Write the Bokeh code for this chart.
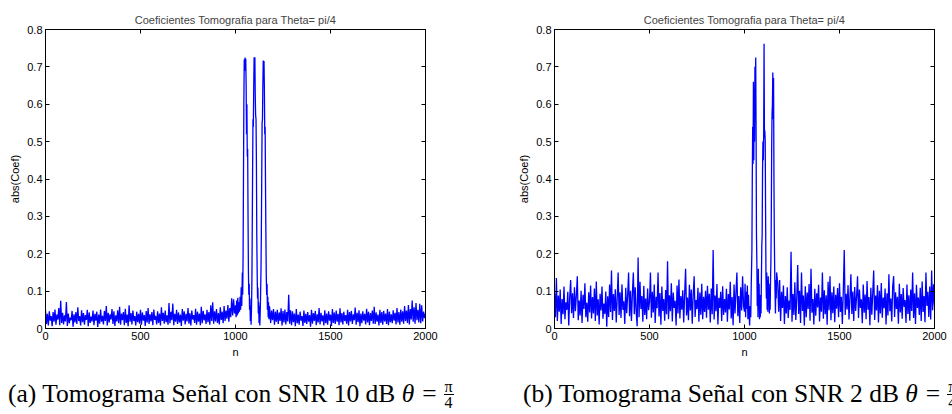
from bokeh.plotting import figure
from bokeh.models import FixedTicker, LinearAxis, Div, Range1d, CustomJSTickFormatter
from bokeh.layouts import column, row
from bokeh.embed import file_html
from bokeh.resources import INLINE

TITLE = "Coeficientes Tomografia para Theta= pi/4"
X_LABEL = "n"
Y_LABEL = "abs(Coef)"
CAPTION_A = "(a) Tomograma Señal con SNR 10 dB"
CAPTION_B = "(b) Tomograma Señal con SNR 2 dB"

x_ticks = [0, 500, 1000, 1500, 2000]
x_tick_labels = ["0", "500", "1000", "1500", "2000"]
y_ticks = [0, 0.1, 0.2, 0.3, 0.4, 0.5, 0.6, 0.7, 0.8]
y_tick_labels = ["0", "0.1", "0.2", "0.3", "0.4", "0.5", "0.6", "0.7", "0.8"]

# ---------------- panel (a): SNR 10 dB ----------------
pre_n_a = list(range(0, 1000, 5))
pre_a = [
    .048, .012, .039, .008, .046, .021, .033, .006, .044, .018, .051, .010, .037, .024, .055, .009, .074, .015, .042, .011,
    .035, .019, .071, .007, .040, .014, .029, .022, .047, .005, .038, .016, .044, .012, .057, .020, .033, .008, .049, .017,
    .041, .010, .036, .023, .050, .006, .043, .015, .032, .019, .048, .009, .039, .021, .045, .004, .037, .013, .051, .018,
    .034, .011, .047, .020, .060, .008, .042, .016, .038, .024, .052, .012, .046, .007, .035, .019, .049, .014, .058, .010,
    .040, .022, .044, .009, .053, .015, .037, .006, .062, .018, .041, .011, .048, .020, .033, .008, .045, .017, .039, .013,
    .050, .010, .043, .021, .036, .007, .047, .016, .055, .012, .038, .019, .044, .009, .051, .023, .034, .011, .046, .015,
    .040, .008, .057, .020, .042, .013, .048, .017, .035, .010, .068, .014, .045, .022, .067, .009, .039, .018, .050, .012,
    .043, .016, .037, .007, .052, .021, .046, .011, .039, .019, .055, .013, .041, .008, .048, .024, .036, .015, .053, .010,
    .045, .018, .040, .009, .058, .014, .047, .022, .038, .012, .050, .017, .044, .010, .062, .020, .070, .013, .046, .019,
    .052, .015, .041, .011, .057, .023, .045, .014, .060, .020, .048, .026, .063, .018, .055, .030, .081, .035, .078, .040,
]
peak_n_a = [
    1000, 1003, 1006, 1009, 1012, 1015, 1018, 1021, 1024, 1027, 1030, 1033, 1036,
    1038, 1040, 1042, 1044, 1046, 1048, 1050, 1052, 1054, 1056, 1058, 1060, 1062, 1064, 1066, 1068, 1070,
    1072, 1074, 1076, 1078, 1080, 1082, 1084, 1086, 1088, 1090, 1092, 1094, 1096, 1098, 1100, 1102, 1104,
    1106, 1108, 1110, 1112, 1114, 1116, 1118, 1120, 1122, 1124, 1126, 1128, 1130, 1132, 1134, 1136, 1138,
    1140, 1142, 1144, 1146, 1148, 1150, 1152, 1154, 1156, 1158, 1160, 1162, 1164, 1166, 1168, 1170, 1172,
    1174, 1176, 1178,
]
peak_a = [
    .062, .030, .075, .035, .082, .040, .070, .045, .085, .050, .110, .060, .150,
    .090, .200, .400, .600, .720, .700, .725, .690, .722, .650, .520, .600, .460, .480, .300, .150, .090,
    .120, .050, .080, .020, .060, .010, .050, .110, .250, .420, .560, .540, .650, .726, .700, .726, .620,
    .570, .560, .450, .250, .150, .080, .110, .040, .070, .015, .060, .008, .040, .090, .150, .250, .400,
    .550, .560, .650, .717, .700, .716, .640, .520, .540, .380, .250, .140, .090, .120, .050, .085, .030,
    .070, .025, .060,
]
post_n_a = list(range(1180, 2001, 5))
post_a = [
    .055, .015, .048, .022, .052, .010, .045, .018, .050, .012, .043, .020, .054, .008, .047, .016, .051, .011, .044, .019,
    .090, .013, .049, .009, .046, .017, .040, .006, .052, .014, .037, .010, .045, .021, .033, .007, .048, .015, .039, .012,
    .044, .018, .036, .005, .050, .013, .041, .020, .047, .009, .038, .016, .055, .011, .042, .019, .035, .008, .049, .014,
    .040, .010, .046, .021, .037, .007, .052, .015, .043, .012, .048, .018, .039, .009, .054, .016, .041, .011, .045, .020,
    .036, .013, .050, .008, .044, .019, .047, .012, .038, .022, .056, .010, .042, .017, .049, .006, .040, .014, .046, .021,
    .039, .011, .053, .016, .045, .009, .041, .020, .048, .013, .058, .012, .043, .018, .037, .008, .050, .015, .044, .010,
    .047, .019, .040, .012, .052, .009, .045, .017, .038, .014, .049, .021, .042, .011, .055, .016, .044, .010, .051, .018,
    .046, .013, .060, .020, .048, .015, .063, .011, .052, .024, .075, .018, .057, .013, .068, .022, .050, .016, .066, .014,
    .062, .019, .045, .028, .040,
]

# ---------------- panel (b): SNR 2 dB ----------------
pre_n_b = list(range(0, 1000, 5))
pre_b = [
    .095, .030, .135, .020, .088, .045, .104, .012, .079, .038, .112, .025, .070, .050, .098, .008, .083, .130, .041, .094,
    .028, .110, .046, .088, .140, .022, .075, .035, .101, .015, .090, .052, .121, .030, .069, .018, .097, .043, .115, .027,
    .084, .040, .107, .020, .126, .035, .078, .011, .093, .048, .112, .026, .067, .039, .099, .005, .086, .031, .118, .044,
    .155, .023, .092, .047, .105, .016, .081, .150, .036, .097, .028, .118, .050, .073, .012, .109, .041, .089, .150, .033,
    .101, .020, .094, .150, .038, .110, .045, .006, .190, .030, .125, .052, .087, .018, .114, .036, .080, .025, .107, .049,
    .072, .150, .029, .098, .043, .118, .015, .085, .054, .150, .032, .095, .010, .112, .047, .079, .021, .103, .038, .180,
    .025, .089, .046, .121, .019, .096, .055, .074, .008, .115, .040, .131, .027, .087, .050, .102, .016, .093, .160, .035,
    .083, .022, .117, .048, .104, .013, .090, .140, .031, .076, .052, .109, .018, .096, .037, .120, .025, .085, .044, .101,
    .029, .114, .050, .093, .016, .107, .038, .210, .024, .088, .046, .119, .011, .082, .055, .098, .020, .113, .036, .079,
    .043, .106, .018, .092, .051, .125, .027, .084, .009, .118, .040, .096, .150, .033, .087, .015, .110, .048, .140, .060,
]
peak_n_b = [
    1000, 1003, 1006, 1009, 1012, 1015, 1018, 1021, 1024, 1027, 1030, 1033, 1036, 1039,
    1041, 1043, 1045, 1047, 1049, 1051, 1053, 1055, 1057, 1059, 1061, 1063, 1065, 1067, 1069, 1071,
    1073, 1075, 1077, 1079, 1081, 1083, 1085, 1087, 1089, 1091, 1093, 1095, 1097, 1099, 1101, 1103,
    1105, 1107, 1109, 1111, 1113, 1115, 1117, 1119, 1121, 1123, 1125, 1127, 1129, 1131, 1133, 1135,
    1137, 1139, 1141, 1143, 1145, 1147, 1149, 1151, 1153, 1155, 1157, 1159, 1161, 1163, 1165, 1167, 1169,
]
peak_b = [
    .045, .120, .030, .098, .052, .115, .025, .090, .040, .008, .060, .030, .130, .210,
    .400, .540, .440, .660, .450, .640, .500, .700, .600, .725, .520, .250, .180, .060, .140, .030,
    .160, .050, .120, .025, .090, .030, .070, .040, .130, .220, .250, .420, .500, .450, .520, .762,
    .510, .530, .500, .310, .140, .080, .150, .050, .130, .045, .140, .060, .120, .040, .110, .050,
    .130, .180, .300, .480, .575, .600, .685, .560, .670, .400, .250, .150, .090, .040, .130, .080, .150,
]
post_n_b = list(range(1175, 2001, 5))
post_b = [
    .120, .045, .130, .020, .098, .055, .115, .012, .087, .040, .110, .028, .075, .050, .205, .018, .092, .036, .124, .023,
    .081, .170, .039, .101, .015, .150, .047, .088, .008, .113, .030, .096, .052, .119, .021, .160, .042, .079, .011, .106,
    .034, .094, .056, .117, .019, .083, .045, .150, .026, .102, .038, .089, .010, .125, .049, .140, .022, .097, .041, .112,
    .017, .090, .053, .108, .030, .121, .044, .085, .012, .100, .210, .036, .093, .051, .116, .024, .082, .145, .039, .099,
    .020, .111, .047, .086, .140, .028, .104, .055, .078, .014, .118, .042, .091, .025, .127, .050, .084, .009, .109, .037,
    .095, .155, .023, .088, .048, .116, .016, .101, .040, .122, .029, .083, .054, .107, .011, .094, .035, .145, .046, .080,
    .019, .113, .140, .031, .097, .052, .085, .013, .120, .043, .092, .026, .108, .058, .076, .015, .118, .039, .089, .021,
    .104, .047, .150, .028, .094, .012, .117, .055, .083, .036, .109, .020, .126, .044, .087, .017, .150, .060, .098, .031,
    .112, .024, .155, .049, .118, .060,
]

n_a = pre_n_a + peak_n_a + post_n_a
coef_a = pre_a + peak_a + post_a
n_b = pre_n_b + peak_n_b + post_n_b
coef_b = pre_b + peak_b + post_b
m_a = min(len(n_a), len(coef_a))
m_b = min(len(n_b), len(coef_b))

SANS = "Liberation Sans"
SERIF = "Liberation Serif"


def formatter(tvals, tlabels):
    return CustomJSTickFormatter(
        args=dict(tvals=tvals, tlabels=tlabels),
        code="const i = tvals.findIndex(t => Math.abs(t - tick) < 1e-9); return i >= 0 ? tlabels[i] : '';",
    )


def style_axis(ax, ticks, labels, show_labels=True):
    ax.ticker = FixedTicker(ticks=ticks)
    ax.major_tick_in = 4
    ax.major_tick_out = 0
    ax.minor_tick_line_color = None
    ax.axis_line_color = "black"
    ax.major_tick_line_color = "black"
    ax.major_label_text_font = SANS
    ax.major_label_text_color = "black"
    ax.major_label_text_font_size = "11px"
    if show_labels:
        ax.formatter = formatter(ticks, labels)
        ax.major_label_standoff = 3
    else:
        ax.formatter = CustomJSTickFormatter(code="return '';")
        ax.major_label_standoff = 0


def make_panel(n, c, border_left, border_right):
    p = figure(
        width=476, height=362,
        x_range=Range1d(0, 2000), y_range=Range1d(0, 0.8),
        output_backend="svg", toolbar_location=None,
        min_border_left=border_left, min_border_right=border_right,
        min_border_top=29, min_border_bottom=34,
        title=TITLE,
    )
    p.title.text_font = SANS
    p.title.text_font_size = "11px"
    p.title.text_font_style = "normal"
    p.title.align = "center"
    p.title.standoff = 7
    p.outline_line_color = "black"
    p.outline_line_alpha = 1
    p.outline_line_width = 1
    p.xgrid.visible = False
    p.ygrid.visible = False
    p.background_fill_color = "white"
    p.border_fill_color = "white"

    p.line(n, c, line_color="#0000ff", line_width=1.3)

    style_axis(p.xaxis[0], x_ticks, x_tick_labels)
    style_axis(p.yaxis[0], y_ticks, y_tick_labels)
    for ax, lab in ((p.xaxis[0], X_LABEL), (p.yaxis[0], Y_LABEL)):
        ax.axis_label = lab
        ax.axis_label_text_font = SANS
        ax.axis_label_text_font_size = "11px"
        ax.axis_label_text_font_style = "normal"
        ax.axis_label_text_color = "black"
        ax.axis_label_standoff = 3

    top = LinearAxis()
    style_axis(top, x_ticks, x_tick_labels, show_labels=False)
    p.add_layout(top, "above")
    right = LinearAxis()
    style_axis(right, y_ticks, y_tick_labels, show_labels=False)
    p.add_layout(right, "right")
    return p


p1 = make_panel(n_a[:m_a], coef_a[:m_a], 45, 51)
p2 = make_panel(n_b[:m_b], coef_b[:m_b], 78, 18)

FRAC = ('<span style="display:inline-block;vertical-align:-6px;text-align:center;'
        'font-size:16px;line-height:15px;">'
        '<span style="display:block;border-bottom:1px solid black;padding:0 1px;">&pi;</span>'
        '<span style="display:block;">4</span></span>')


def caption(text, pad_left):
    html = (f'<div style="font-family:\'{SERIF}\';font-size:25.5px;color:black;white-space:nowrap;'
            f'line-height:25px;padding-top:17px;padding-left:{pad_left}px;">'
            f'{text} <i>&theta;</i><span style="margin:0 7px 0 8px;">=</span>{FRAC}</div>')
    return Div(text=html, width=476, height=52, margin=0, styles={"overflow": "hidden"})


d1 = caption(CAPTION_A, 8)
d2 = caption(CAPTION_B, 47)

layout = column(row(p1, p2), row(d1, d2))

open("out.html", "w").write(file_html(layout, INLINE))
